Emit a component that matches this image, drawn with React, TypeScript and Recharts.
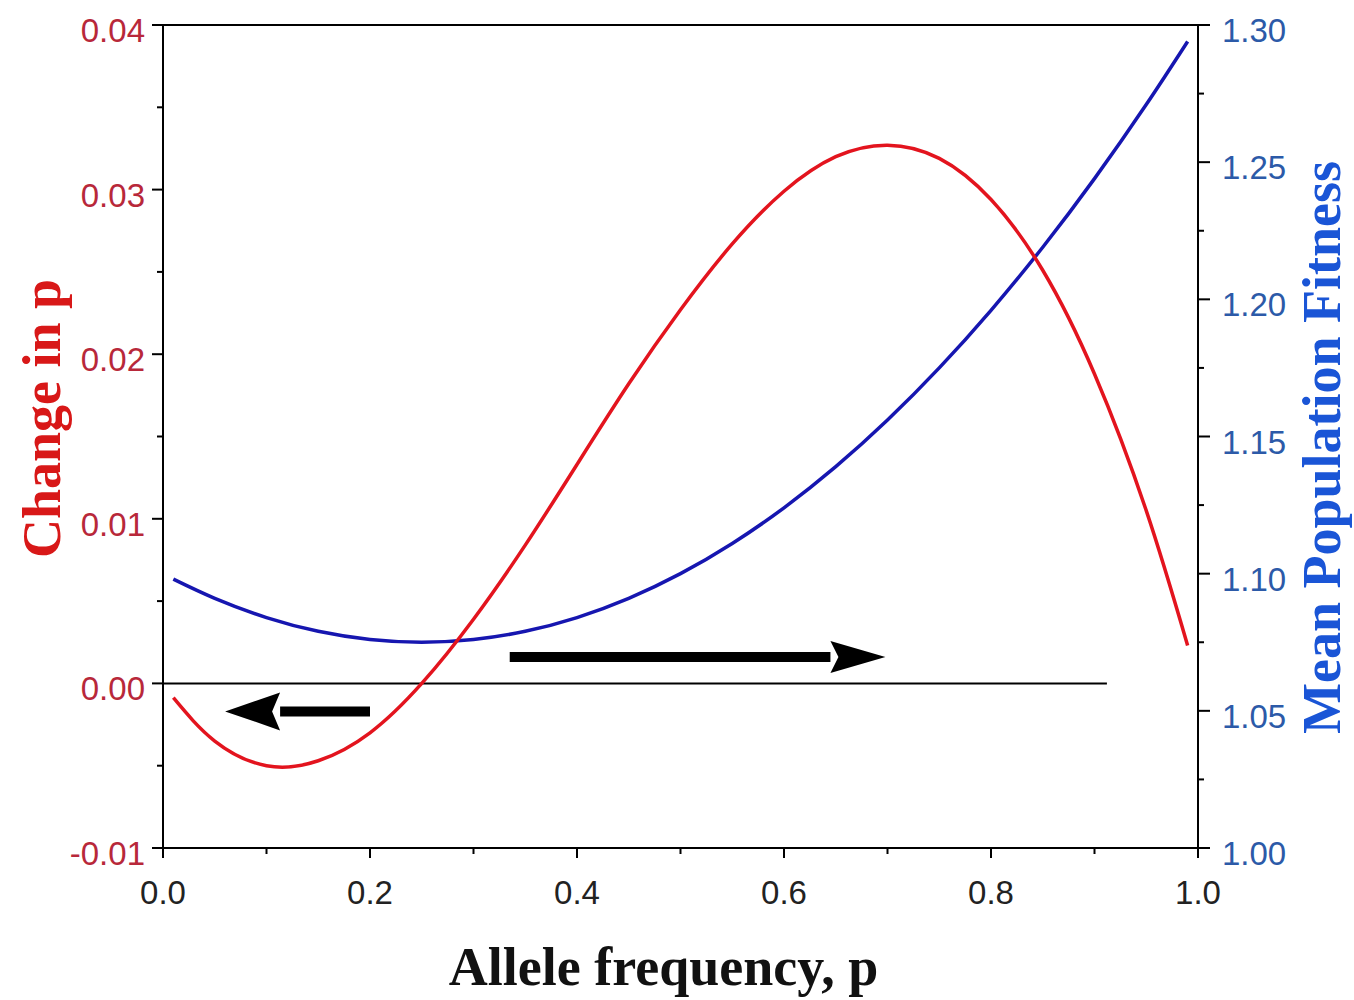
import React from 'react';
import { ComposedChart, Line, XAxis, YAxis, ReferenceLine } from 'recharts';

// allele frequency p where the curves were sampled
const P_VALUES = [0.01, 0.05, 0.1, 0.15, 0.2, 0.25, 0.3, 0.35, 0.4, 0.45, 0.5, 0.55, 0.6, 0.65, 0.7, 0.75, 0.8, 0.85, 0.9, 0.95, 0.99];
// change in p per generation (left axis)
const CHANGE_IN_P = [-0.00087, -0.0035, -0.005, -0.0047, -0.003, 0.0, 0.0039, 0.0084, 0.0133, 0.0182, 0.0227, 0.0267, 0.0299, 0.032, 0.0327, 0.0319, 0.0294, 0.0251, 0.0188, 0.0105, 0.0023];
// mean population fitness (right axis)
const MEAN_FITNESS = [1.098, 1.091, 1.084, 1.079, 1.076, 1.075, 1.076, 1.079, 1.084, 1.091, 1.1, 1.111, 1.124, 1.139, 1.156, 1.175, 1.196, 1.219, 1.244, 1.271, 1.294];

const X_TICKS = [0, 0.1, 0.2, 0.3, 0.4, 0.5, 0.6, 0.7, 0.8, 0.9, 1.0];
const LEFT_TICKS = [-0.01, -0.005, 0, 0.005, 0.01, 0.015, 0.02, 0.025, 0.03, 0.035, 0.04];
const RIGHT_TICKS = [1.0, 1.025, 1.05, 1.075, 1.1, 1.125, 1.15, 1.175, 1.2, 1.225, 1.25, 1.275, 1.3];

// direction arrows: from p, to p, at level (left axis units)
const ARROW_FROM = [0.2, 0.335];
const ARROW_TO = [0.06, 0.698];
const ARROW_LEVEL = [-0.0017, 0.0016];
const ZERO_LINE_END = 0.912;

const data = P_VALUES.map((p, i) => ({ p, change: CHANGE_IN_P[i], fitness: MEAN_FITNESS[i] }));

const RED = '#e3141e';
const BLUE = '#1616b0';
const TICK_FONT = "'Liberation Sans', Arial, sans-serif";
const TITLE_FONT = "'Liberation Serif', 'Times New Roman', serif";

const LeftTick = (props: any) => {
  const { x, y, index, payload } = props;
  const major = index % 2 === 0;
  const axisX = x + 11 + 7;
  return (
    <g>
      <line x1={axisX - (major ? 11 : 6)} x2={axisX} y1={y} y2={y} stroke="#000" strokeWidth={2} />
      {major && (
        <text x={x} y={y} dy={17} textAnchor="end" fontFamily={TICK_FONT} fontSize={33} fill="#b8283a">
          {payload.value.toFixed(2)}
        </text>
      )}
    </g>
  );
};

const RightTick = (props: any) => {
  const { x, y, index, payload } = props;
  const major = index % 2 === 0;
  const axisX = x - 12 - 12;
  return (
    <g>
      <line x1={axisX} x2={axisX + (major ? 12 : 6)} y1={y} y2={y} stroke="#000" strokeWidth={2} />
      {major && (
        <text x={x} y={y} dy={17} textAnchor="start" fontFamily={TICK_FONT} fontSize={33} fill="#2c5aa8">
          {payload.value.toFixed(2)}
        </text>
      )}
    </g>
  );
};

const BottomTick = (props: any) => {
  const { x, y, index, payload } = props;
  const major = index % 2 === 0;
  const axisY = y - 10 - 22;
  return (
    <g>
      <line x1={x} x2={x} y1={axisY} y2={axisY + (major ? 10 : 6)} stroke="#000" strokeWidth={2} />
      {major && (
        <text x={x} y={y} dy={24} textAnchor="middle" fontFamily={TICK_FONT} fontSize={33} fill="#222">
          {payload.value.toFixed(1)}
        </text>
      )}
    </g>
  );
};

const leftTitle = (props: any) => {
  const { viewBox } = props;
  const cx = viewBox.x + 60;
  const cy = viewBox.y + viewBox.height / 2 - 18;
  return (
    <text x={cx} y={cy} transform={`rotate(-90 ${cx} ${cy})`} textAnchor="middle"
      fontFamily={TITLE_FONT} fontWeight="bold" fontSize={54} fill="#d81818">
      Change in p
    </text>
  );
};

const rightTitle = (props: any) => {
  const { viewBox } = props;
  const cx = viewBox.x + 142;
  const cy = viewBox.y + viewBox.height / 2 + 11;
  return (
    <text x={cx} y={cy} transform={`rotate(-90 ${cx} ${cy})`} textAnchor="middle"
      fontFamily={TITLE_FONT} fontWeight="bold" fontSize={54} fill="#1a55d6">
      Mean Population Fitness
    </text>
  );
};

const bottomTitle = (props: any) => {
  const { viewBox } = props;
  return (
    <text x={viewBox.x + viewBox.width / 2 - 17} y={viewBox.y + 137} textAnchor="middle"
      fontFamily={TITLE_FONT} fontWeight="bold" fontSize={54} fill="#111">
      Allele frequency, p
    </text>
  );
};

// thick black arrow drawn along a reference segment
const Arrow = (props: any) => {
  const { x1, y1, x2, y2 } = props;
  const dir = x2 > x1 ? 1 : -1;
  const headLen = 55;
  const half = dir > 0 ? 16 : 19;
  const baseX = x2 - dir * headLen;
  return (
    <g>
      <line x1={x1} y1={y1} x2={baseX} y2={y2} stroke="#000" strokeWidth={10} />
      <polygon points={`${x2},${y2} ${baseX},${y2 - half} ${baseX + dir * 8},${y2} ${baseX},${y2 + half}`} fill="#000" />
    </g>
  );
};

export default function App() {
  return (
    <div style={{ position: 'absolute', left: 0, top: 0, width: 1354, height: 1000, background: '#fff' }}>
      <ComposedChart width={1354} height={1000} data={data} margin={{ top: 25, right: 0, bottom: 0, left: 0 }}>
        <XAxis dataKey="p" type="number" domain={[0, 1]} ticks={X_TICKS} interval={0}
          height={152} tickSize={10} tickMargin={22} tickLine={false}
          axisLine={{ stroke: '#000', strokeWidth: 2 }} tick={<BottomTick />} label={bottomTitle} />
        <YAxis yAxisId="left" orientation="left" type="number" domain={[-0.01, 0.04]} ticks={LEFT_TICKS}
          interval={0} width={163} tickSize={11} tickMargin={7} tickLine={false}
          axisLine={{ stroke: '#000', strokeWidth: 2 }} tick={<LeftTick />} label={leftTitle} />
        <YAxis yAxisId="right" orientation="right" type="number" domain={[1.0, 1.3]} ticks={RIGHT_TICKS}
          interval={0} width={156} tickSize={12} tickMargin={12} tickLine={false}
          axisLine={{ stroke: '#000', strokeWidth: 2 }} tick={<RightTick />} label={rightTitle} />
        <ReferenceLine yAxisId="left" y={0.04} stroke="#000" strokeWidth={2} />
        <ReferenceLine yAxisId="left" segment={[{ x: 0, y: 0 }, { x: ZERO_LINE_END, y: 0 }]} stroke="#000" strokeWidth={2} />
        {ARROW_FROM.map((from, i) => (
          <ReferenceLine key={`arrow-${i}`} yAxisId="left"
            segment={[{ x: from, y: ARROW_LEVEL[i] }, { x: ARROW_TO[i], y: ARROW_LEVEL[i] }]}
            shape={<Arrow />} />
        ))}
        <Line yAxisId="right" type="natural" dataKey="fitness" stroke={BLUE} strokeWidth={3.5}
          dot={false} isAnimationActive={false} />
        <Line yAxisId="left" type="natural" dataKey="change" stroke={RED} strokeWidth={3.5}
          dot={false} isAnimationActive={false} />
      </ComposedChart>
    </div>
  );
}
